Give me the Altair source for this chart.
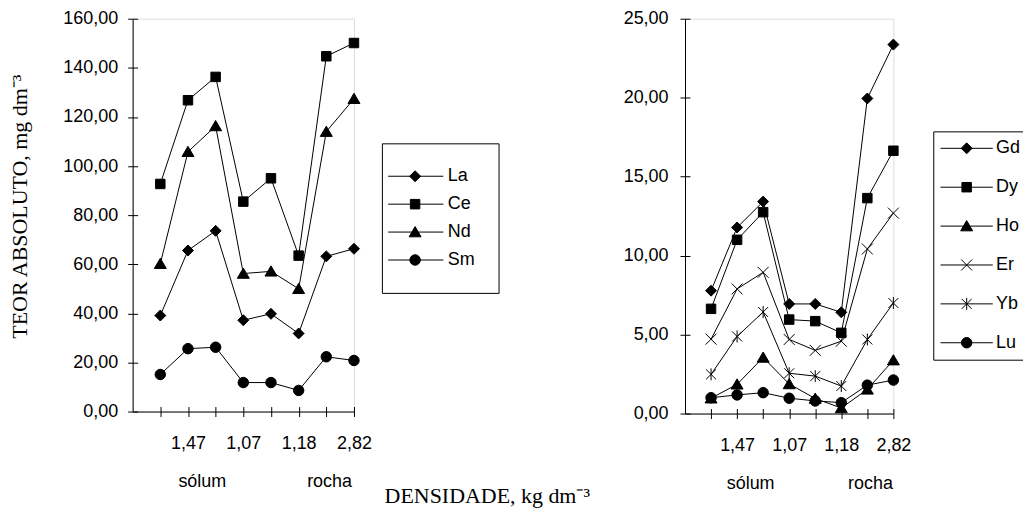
import altair as alt
import pandas as pd

# ---------------- data ----------------
positions = [1, 2, 3, 4, 5, 6, 7, 8]
density_labels = ["", "1,47", "", "1,07", "", "1,18", "", "2,82"]
group_labels = ["sólum", "rocha"]
group_positions = [2.5, 7.1]

left_series = ["La", "Ce", "Nd", "Sm"]
La = [39.1, 65.6, 73.6, 37.2, 39.8, 31.8, 63.2, 66.3]
Ce = [92.7, 126.8, 136.3, 85.5, 95.0, 63.5, 144.7, 150.1]
Nd = [60.2, 105.8, 116.3, 56.2, 57.1, 50.0, 114.0, 127.4]
Sm = [15.1, 25.6, 26.2, 11.8, 11.8, 8.6, 22.3, 20.8]

right_series = ["Gd", "Dy", "Ho", "Er", "Yb", "Lu"]
Gd = [7.78, 11.78, 13.42, 6.94, 6.94, 6.41, 19.95, 23.36]
Dy = [6.63, 11.00, 12.75, 5.95, 5.85, 5.11, 13.64, 16.64]
Ho = [0.97, 1.85, 3.55, 1.87, 0.95, 0.35, 1.53, 3.38]
Er = [4.71, 7.89, 8.94, 4.69, 4.00, 4.58, 10.42, 12.69]
Yb = [2.48, 4.88, 6.43, 2.55, 2.37, 1.74, 4.69, 7.00]
Lu = [1.00, 1.18, 1.32, 0.97, 0.80, 0.69, 1.80, 2.12]

left_ticks = [0, 20, 40, 60, 80, 100, 120, 140, 160]
right_ticks = [0, 5, 10, 15, 20, 25]

left_values = {"La": La, "Ce": Ce, "Nd": Nd, "Sm": Sm}
right_values = {"Gd": Gd, "Dy": Dy, "Ho": Ho, "Er": Er, "Yb": Yb, "Lu": Lu}

left_markers = {"La": "diamond", "Ce": "square", "Nd": "triangle", "Sm": "circle"}
right_markers = {"Gd": "diamond", "Dy": "square", "Ho": "triangle",
                 "Er": "x", "Yb": "star", "Lu": "circle"}


def long_df(values):
    rows = []
    for s, vals in values.items():
        for p, v in zip(positions, vals):
            rows.append({"series": s, "pos": p, "value": v})
    return pd.DataFrame(rows)


# ---------------- marker geometry (style) ----------------
def f(v):
    return f"{v:.3f}"


def marker(kind, cx=0.0):
    if kind == "diamond":
        r = 1.1
        return f"M{f(cx)},{f(-r)}L{f(cx + r)},0L{f(cx)},{f(r)}L{f(cx - r)},0Z"
    if kind == "square":
        r = 0.95
        return f"M{f(cx - r)},{f(-r)}L{f(cx + r)},{f(-r)}L{f(cx + r)},{f(r)}L{f(cx - r)},{f(r)}Z"
    if kind == "triangle":
        return f"M{f(cx)},-1.1L{f(cx + 1.2)},0.95L{f(cx - 1.2)},0.95Z"
    if kind == "circle":
        r = 1.05
        return (f"M{f(cx - r)},0A{r},{r} 0 1,0 {f(cx + r)},0"
                f"A{r},{r} 0 1,0 {f(cx - r)},0Z")
    if kind == "x":
        r = 1.1
        return f"M{f(cx - r)},{f(-r)}L{f(cx + r)},{f(r)}M{f(cx - r)},{f(r)}L{f(cx + r)},{f(-r)}"
    if kind == "star":
        r = 1.0
        return (f"M{f(cx - r)},{f(-r)}L{f(cx + r)},{f(r)}M{f(cx - r)},{f(r)}L{f(cx + r)},{f(-r)}"
                f"M{f(cx)},-1.2L{f(cx)},1.2")
    raise ValueError(kind)


def legend_symbol(kind, x0, x1, cx):
    return f"M{f(x0)},0L{f(x1)},0" + marker(kind, cx)


SANS = "Liberation Sans"
SERIF = "Liberation Serif"


def label_expr(values, labels):
    parts = " : ".join(f"datum.value == {v} ? '{l}'" for v, l in zip(values, labels))
    return parts + " : ''"


def panel(values, markers, series, ticks, width, height, ytitle, ypad,
          leg_x, leg_y, leg_pad, leg_row, leg_line, leg_label_offset):
    df = long_df(values)
    ymax = ticks[-1]
    xscale = alt.Scale(domain=[0, 8], nice=False, zero=False)
    yscale = alt.Scale(domain=[0, ymax], nice=False, zero=True)

    main_x = alt.Axis(orient="bottom", values=positions,
                      labelExpr=label_expr(positions, density_labels),
                      tickSize=5, labelPadding=18, labelFont=SANS, labelFontSize=18,
                      labelColor="black", tickColor="black", domainColor="black",
                      labelOverlap=False, labelFlush=False, grid=False, title=None)
    yaxis_kw = dict(orient="left", values=ticks,
                    labelExpr="replace(format(datum.value, '.2f'), '.', ',')",
                    tickSize=5, labelPadding=ypad, labelFont=SANS, labelFontSize=18,
                    labelColor="black", tickColor="black", domainColor="black",
                    labelOverlap=False, labelFlush=False, grid=False)
    if ytitle:
        main_y = alt.Axis(title=ytitle, titleFont=SERIF, titleFontSize=22,
                          titleFontWeight="normal", titleColor="black",
                          titlePadding=31, titleY=188, **yaxis_kw)
    else:
        main_y = alt.Axis(title=None, **yaxis_kw)

    inner_x = alt.Axis(orient="bottom", values=positions, offset=-5, tickSize=5,
                       labels=False, domain=False, grid=False, title=None,
                       tickColor="black")
    inner_y = alt.Axis(orient="left", values=ticks, offset=-5, tickSize=5,
                       labels=False, domain=False, grid=False, title=None,
                       tickColor="black")
    group_x = alt.Axis(orient="bottom", values=group_positions,
                       labelExpr=label_expr(group_positions, group_labels),
                       offset=54, ticks=False, tickSize=0, domain=False, grid=False,
                       labelPadding=7, labelFont=SANS, labelFontSize=18,
                       labelColor="black", labelOverlap=False, labelFlush=False,
                       title=None)

    lines = alt.Chart(df).mark_line(color="black", strokeWidth=1).encode(
        x=alt.X("pos:Q", scale=xscale, axis=main_x),
        y=alt.Y("value:Q", scale=yscale, axis=main_y),
        detail="series:N",
        order="pos:Q",
    )
    points = alt.Chart(df).mark_point(
        filled=True, size=100, fill="black", stroke="black", strokeWidth=1, opacity=1
    ).encode(
        x=alt.X("pos:Q", scale=xscale, axis=inner_x),
        y=alt.Y("value:Q", scale=yscale, axis=inner_y),
        shape=alt.Shape("series:N",
                        scale=alt.Scale(domain=series,
                                        range=[marker(markers[s]) for s in series]),
                        legend=None),
    )
    x0, x1, cx = leg_line
    legend_layer = alt.Chart(df).transform_filter("false").mark_point(
        filled=False, size=100, fill="black", stroke="black", strokeWidth=1,
        opacity=1, fillOpacity=1, strokeOpacity=1
    ).encode(
        x=alt.X("pos:Q", scale=xscale, axis=group_x),
        y=alt.Y("value:Q", scale=yscale, axis=None),
        shape=alt.Shape(
            "series:N",
            scale=alt.Scale(domain=series,
                            range=[legend_symbol(markers[s], x0, x1, cx) for s in series]),
            legend=alt.Legend(
                title=None, orient="none", legendX=leg_x, legendY=leg_y,
                padding=leg_pad, rowPadding=leg_row, labelOffset=leg_label_offset,
                labelFont=SANS, labelFontSize=18, labelColor="black",
                symbolSize=100, symbolStrokeWidth=1,
                strokeColor="black", fillColor="white",
                cornerRadius=0, labelLimit=0,
            ),
        ),
    )
    return alt.layer(lines, points, legend_layer).resolve_axis(
        x="independent", y="independent"
    ).resolve_scale(shape="independent").resolve_legend(shape="independent").properties(
        width=width, height=height
    )


left = panel(left_values, left_markers, left_series, left_ticks, 222, 394,
             "TEOR ABSOLUTO, mg dm⁻³", 10,
             leg_x=250, leg_y=125, leg_pad=24, leg_row=10,
             leg_line=(-5.34, 5.72, 0.06), leg_label_offset=24)
right = panel(right_values, right_markers, right_series, right_ticks, 209, 396,
              None, 12,
              leg_x=249, leg_y=113, leg_pad=8, leg_row=21,
              leg_line=(-1.94, 8.54, 3.3), leg_label_offset=37)

chart = alt.hconcat(left, right, spacing=332, bounds="flush").properties(
    padding={"left": 0, "top": 0, "right": -7, "bottom": 0},
    title=alt.TitleParams("DENSIDADE, kg dm⁻³", orient="bottom", anchor="middle",
                          font=SERIF, fontSize=22, fontWeight="normal",
                          color="black", offset=-7, dx=-32),
).configure_view(stroke=None).configure(background="white")

chart.save("out.html", embed_options={"renderer": "svg", "actions": False})
